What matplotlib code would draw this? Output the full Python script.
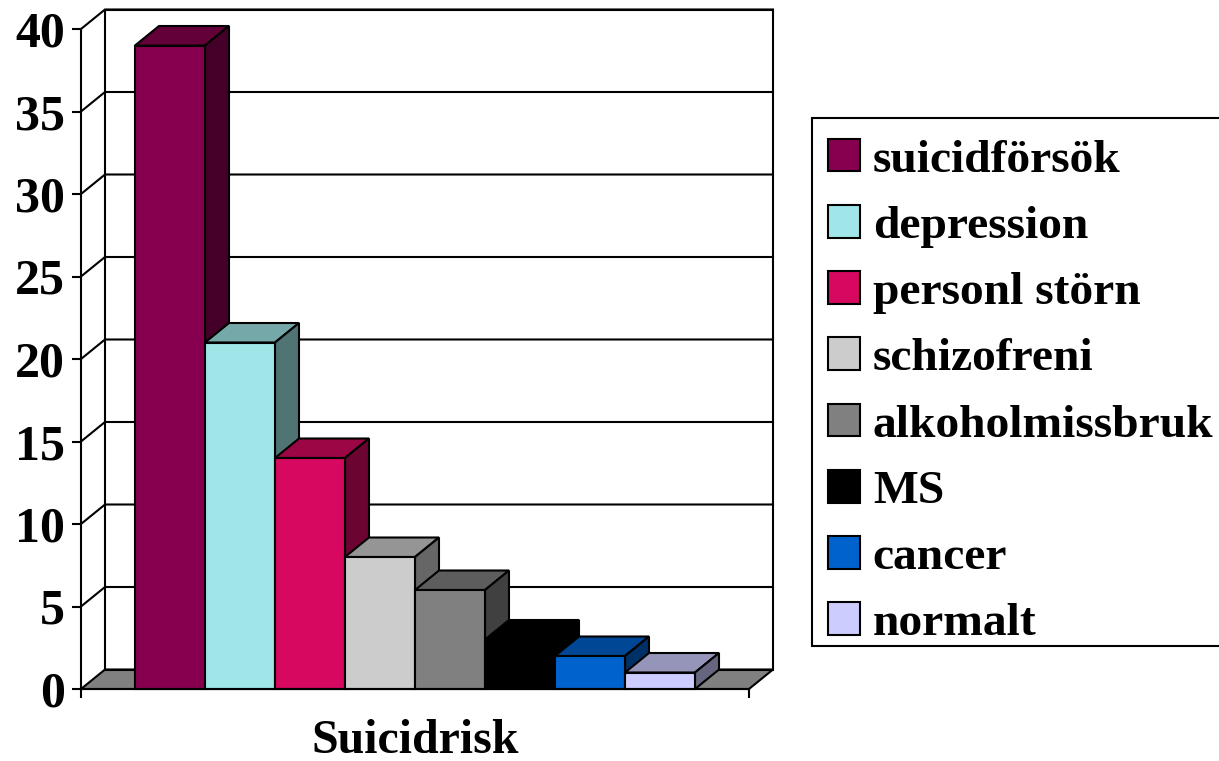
import matplotlib
matplotlib.use("Agg")
import matplotlib.pyplot as plt
from matplotlib.patches import Patch, Polygon, Rectangle

categories = ["suicidförsök", "depression", "personl störn", "schizofreni",
              "alkoholmissbruk", "MS", "cancer", "normalt"]
values = [39, 21, 14, 8, 6, 3, 2, 1]
colors = ["#870050", "#A0E6E8", "#D6085F", "#CCCCCC",
          "#808080", "#000000", "#0062CC", "#CCCCFF"]
yticks = [0, 5, 10, 15, 20, 25, 30, 35, 40]
axis_title = "Suicidrisk"

W, H = 1219, 761
FONT = ["Liberation Serif", "DejaVu Serif"]
FS = 34.5
LW = 1.5

# Pixel geometry of the front plane of the pseudo-3D chart
PX_L, PX_R, PX_B, PX_T = 81, 749, 689, 29
BAR_PX, FIRST_BAR_PX = 70, 135
DEPTH_X_PX, DEPTH_Y_PX = 24, 19.5

plt.rcParams["font.family"] = FONT
plt.rcParams["font.weight"] = "bold"

fig = plt.figure(figsize=(W / 100, H / 100), dpi=100, facecolor="white")
ax = fig.add_axes([PX_L / W, (H - PX_B) / H, (PX_R - PX_L) / W, (PX_B - PX_T) / H])
ax.patch.set_visible(False)

x0 = (PX_L - FIRST_BAR_PX) / BAR_PX
x1 = (PX_R - FIRST_BAR_PX) / BAR_PX
ax.set_xlim(x0, x1)
ax.set_ylim(0, 40)
dx = DEPTH_X_PX / BAR_PX
dy = DEPTH_Y_PX / ((PX_B - PX_T) / 40)


def shade(hex_color, f):
    r, g, b = matplotlib.colors.to_rgb(hex_color)
    return (r * f, g * f, b * f)


def poly(points, face, z):
    ax.add_patch(Polygon(points, closed=True, facecolor=face, edgecolor="black",
                         linewidth=LW, joinstyle="miter", clip_on=False, zorder=z))


# Back wall, floor and grid
poly([(x0, 0), (x1, 0), (x1 + dx, dy), (x0 + dx, dy)], "#808080", 1)
poly([(x0 + dx, dy), (x1 + dx, dy), (x1 + dx, 40 + dy), (x0 + dx, 40 + dy)], "none", 1)
for t in yticks[1:]:
    ax.plot([x0, x0 + dx, x1 + dx], [t, t + dy, t + dy], color="black",
            lw=LW, clip_on=False, zorder=1, solid_joinstyle="miter")

# Bars, left to right so each front covers the previous side face
for i, (v, c) in enumerate(zip(values, colors)):
    z = 3 + i
    l, r = i, i + 1
    poly([(l, v), (r, v), (r + dx, v + dy), (l + dx, v + dy)], shade(c, 0.73), z)
    poly([(r, 0), (r + dx, dy), (r + dx, v + dy), (r, v)], shade(c, 0.5), z)
    ax.bar(l, v, width=1, align="edge", color=c, edgecolor="black",
           linewidth=LW, zorder=z, clip_on=False)

for s in ("top", "right"):
    ax.spines[s].set_visible(False)
for s in ("left", "bottom"):
    ax.spines[s].set_linewidth(LW)
    ax.spines[s].set_zorder(20)

ax.set_yticks(yticks)
ax.set_xticks([x0, x1])
ax.set_xticklabels(["", ""])
ax.tick_params(axis="y", length=6.5, width=LW, labelsize=36, pad=5)
ax.tick_params(axis="x", length=6.5, width=LW)
fig.text(415 / W, 1 - 741 / H, axis_title, ha="center", va="center",
         fontsize=FS, fontweight="bold")

# Legend frame runs off the right edge of the picture
fig.add_artist(Rectangle((812 / W, 1 - 646 / H), 420 / W, 528 / H,
                         transform=fig.transFigure, facecolor="white",
                         edgecolor="black", linewidth=LW, zorder=2))
handles = [Patch(facecolor=c, edgecolor="black", linewidth=LW) for c in colors]
leg = fig.legend(handles, categories, loc="upper left",
                 bbox_to_anchor=(812 / W, 1 - 123 / H), bbox_transform=fig.transFigure,
                 fontsize=34.2, handlelength=0.68, handleheight=0.68, handletextpad=0.27,
                 borderaxespad=0, borderpad=0.33, labelspacing=0.49, frameon=False)
leg.set_zorder(3)

fig.savefig("out.png", dpi=100, facecolor="white")
